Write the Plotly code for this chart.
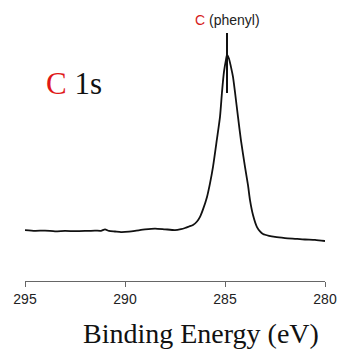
import plotly.graph_objects as go

# Binding energy (eV) and intensity (a.u.)
binding_energy = [295.0, 294.5, 294.0, 293.5, 293.0, 292.5, 292.0, 291.5, 291.2, 291.0, 290.8,
                  290.5, 290.2, 289.8, 289.5, 289.0, 288.5, 288.0, 287.5, 287.2, 287.0,
                  286.8, 286.6, 286.4, 286.25, 286.1, 285.9, 285.75, 285.6, 285.4, 285.25,
                  285.15, 285.05, 284.95, 284.9, 284.8, 284.7, 284.6, 284.5, 284.35, 284.2,
                  284.0, 283.85, 283.75, 283.6, 283.4, 283.25, 283.1, 282.8, 282.5, 282.0,
                  281.5, 281.0, 280.5, 280.0]
intensity = [5.9, 5.5, 5.6, 5.2, 5.4, 5.3, 5.4, 5.6, 5.5, 6.3, 5.4,
             5.1, 4.8, 5.0, 5.4, 6.2, 6.7, 6.3, 5.9, 6.4, 7.0,
             7.8, 8.6, 10.5, 13.0, 17.0, 23.7, 31.0, 39.8, 55.0, 66.7,
             80.0, 91.0, 97.5, 100.0, 98.0, 93.5, 88.2, 80.0, 66.7, 54.0,
             39.8, 30.0, 22.0, 14.0, 7.5, 5.2, 3.8, 2.8, 2.2, 1.6,
             1.2, 0.8, 0.6, 0.0]

tick_values = [295, 290, 285, 280]
tick_labels = ["295", "290", "285", "280"]

peak_position = 284.9
peak_label_ymin = 79.6
peak_label_ymax = 111.8

fig = go.Figure()
fig.add_trace(go.Scatter(
    x=binding_energy, y=intensity, mode="lines",
    line=dict(color="#111111", width=1.8, shape="spline", smoothing=0.6),
    hoverinfo="skip", showlegend=False,
))

fig.add_shape(type="line", xref="x", yref="y",
              x0=peak_position, x1=peak_position, y0=peak_label_ymin, y1=peak_label_ymax,
              line=dict(color="#111111", width=2))

fig.add_annotation(xref="x", yref="paper", x=peak_position, y=0.963,
                   text="<span style='color:#d62020'>C</span> (phenyl)",
                   showarrow=False, font=dict(family="Liberation Sans, Arial", size=14, color="#222222"),
                   xanchor="center", yanchor="middle")

fig.add_annotation(xref="paper", yref="paper", x=0.063, y=0.727,
                   text="<span style='color:#e01818'>C</span> 1s",
                   showarrow=False, font=dict(family="Liberation Serif, Times New Roman", size=31, color="#111111"),
                   xanchor="left", yanchor="middle")

fig.add_annotation(xref="paper", yref="paper", x=0.588, y=-0.192,
                   text="Binding Energy (eV)",
                   showarrow=False, font=dict(family="Liberation Serif, Times New Roman", size=28, color="#111111"),
                   xanchor="center", yanchor="middle")

fig.update_layout(
    width=340, height=358,
    margin=dict(l=25, r=15, t=10, b=77, autoexpand=False),
    plot_bgcolor="white", paper_bgcolor="white",
    xaxis=dict(range=[295, 280], tickvals=tick_values, ticktext=tick_labels,
               showline=True, linecolor="#666666", linewidth=1.2,
               ticks="outside", ticklen=5, tickcolor="#666666", tickwidth=1.2,
               showgrid=False, zeroline=False, automargin=False,
               tickfont=dict(family="Liberation Sans, Arial", size=14, color="#222222")),
    yaxis=dict(range=[-21.5, 124.19], visible=False, showgrid=False, zeroline=False),
)

fig.write_html("out.html")
